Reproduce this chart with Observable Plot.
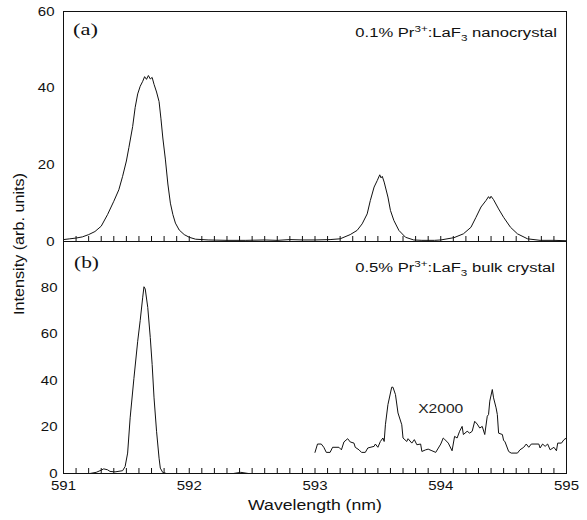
<!DOCTYPE html>
<html>
<head>
<meta charset="utf-8">
<script src="https://cdn.jsdelivr.net/npm/d3@7"></script>
<script src="https://cdn.jsdelivr.net/npm/@observablehq/plot@0.6"></script>
<style>
  html, body { margin: 0; padding: 0; background: white; }
  #wrap { position: relative; width: 587px; height: 520px; }
  #wrap > svg.plot { display: block; }
  #overlay { position: absolute; left: 0; top: 0; pointer-events: none; }
</style>
</head>
<body>
<div id="wrap"></div>
<script>
// ---------- data ----------
const xDomain = [591, 595];
const xTickLabels = [591, 592, 593, 594, 595];
const yTicksTop = [0, 20, 40, 60];
const yTicksBottom = [0, 20, 40, 60, 80];

// (a) nanocrystal spectrum: wavelength (nm), intensity
const nanoWl = [591.00,591.05,591.10,591.15,591.20,591.25,591.30,591.35,591.40,591.44,591.47,591.50,591.52,591.55,591.57,591.59,591.61,591.63,591.645,591.66,591.675,591.69,591.705,591.72,591.74,591.76,591.775,591.79,591.81,591.83,591.85,591.87,591.89,591.92,591.96,592.00,592.05,592.15,592.30,592.45,592.60,592.70,592.80,592.90,593.00,593.12,593.20,593.28,593.335,593.375,593.415,593.44,593.47,593.495,593.515,593.525,593.535,593.55,593.58,593.60,593.627,593.667,593.72,593.785,593.85,593.95,594.00,594.105,594.18,594.24,594.28,594.32,594.36,594.38,594.39,594.40,594.42,594.46,594.50,594.555,594.61,594.69,594.79,594.90,595.00];
const nanoI  = [0.5,0.7,0.9,1.2,1.8,2.6,4.0,7.0,10.5,13.5,17,21,24.5,30,35,38.5,40.5,41.8,43,42.3,43.3,42.4,42.8,41,39,36.5,32,27,21.5,15,10,7,4.8,3.0,1.8,1.1,0.6,0.4,0.3,0.3,0.4,0.3,0.5,0.4,0.4,0.5,0.7,1.8,2.9,4.6,7.2,10.7,14.2,15.9,17.4,16.6,17.0,15.5,11.6,8.1,5.5,2.9,1.1,0.4,0.3,0.3,0.4,1.0,2.0,3.7,6.3,9.0,10.7,11.7,11.2,11.8,10.9,8.5,6.3,3.7,2.0,0.7,0.3,0.3,0.2];

// (b) bulk crystal spectrum
const bulkWl = [591.00,591.10,591.21,591.26,591.29,591.32,591.35,591.37,591.41,591.47,591.49,591.51,591.53,591.56,591.59,591.61,591.63,591.64,591.65,591.67,591.69,591.705,591.72,591.74,591.76,591.77,591.79,591.82,592.00,592.35,592.41,592.47,592.90];
const bulkI  = [0,0,0,0.5,1.2,2.0,1.6,0.9,0.7,1.2,3,8.8,24,41,57,66,76,80.5,79.5,71.6,58.6,47,32.6,18.2,6.6,2.3,0.4,0,0,0,0.5,0,0];

// (b) X2000 magnified part
const x2000Wl = [593.00,593.02,593.05,593.07,593.09,593.12,593.14,593.19,593.21,593.23,593.26,593.28,593.31,593.32,593.35,593.37,593.40,593.42,593.47,593.48,593.50,593.52,593.54,593.55,593.56,593.58,593.61,593.62,593.64,593.66,593.69,593.70,593.73,593.74,593.77,593.79,593.81,593.84,593.85,593.88,593.90,593.93,593.96,594.00,594.02,594.03,594.06,594.09,594.11,594.13,594.15,594.17,594.18,594.21,594.23,594.25,594.27,594.29,594.31,594.33,594.35,594.37,594.38,594.39,594.41,594.42,594.44,594.45,594.46,594.49,594.50,594.51,594.54,594.56,594.61,594.63,594.66,594.68,594.70,594.72,594.78,594.79,594.81,594.83,594.85,594.87,594.90,594.92,594.93,594.96,594.98,595.00];
const x2000I  = [9.1,12.7,12.7,11.3,9.1,9.1,11.3,11.3,10.2,13.6,15,13.6,13.1,11.3,10.2,9.1,9.1,11,11.7,12.7,11.3,13.8,15.3,13.8,21,29.7,37.2,37.2,34,26.1,21,15.3,13.8,15,13.1,14.6,12.4,12.7,9.5,10.2,10.5,9.8,9.1,12.7,15.3,14.8,13.1,9.8,16,15.3,18.2,20.3,16.8,18.2,17.4,18.2,22.5,21.3,19.6,20.3,16.8,24.7,25.4,31.2,36.2,32.6,28.3,25.4,17.4,16.8,14.2,13.8,9.5,8.8,8.8,10.2,11.3,12.7,11.3,12.7,12.7,11,12.7,11.7,12.7,10.2,11.3,9.8,13.1,13.1,14.6,15.3];

const annotX2000 = [{x: 594.0, y: 28, label: "X2000"}];

// ---------- build ----------
const nano = nanoWl.map((x, i) => ({x, y: nanoI[i]}));
const bulk = bulkWl.map((x, i) => ({x, y: bulkI[i]}));
const mag = x2000Wl.map((x, i) => ({x, y: x2000I[i]}));
const minorTicks = d3.ticks(xDomain[0], xDomain[1], 40);

const W = 587, ML = 63, MR = 21;
const fontFam = "'Liberation Sans', Arial, Helvetica, sans-serif";
const serifFam = "'Liberation Serif', 'Times New Roman', serif";
const common = {
  width: W, marginLeft: ML, marginRight: MR,
  style: {fontFamily: fontFam, fontSize: "12.5px", color: "#111", background: "white", overflow: "visible"}
};

const plotTop = Plot.plot({
  ...common,
  height: 241, marginTop: 11, marginBottom: 0,
  x: {domain: xDomain, axis: null},
  y: {domain: [0, 60]},
  marks: [
    Plot.tickX(minorTicks, {x: d => d, insetTop: 225, stroke: "#111", strokeWidth: 1}),
    Plot.lineY(nano, {x: "x", y: "y", stroke: "#111", strokeWidth: 1}),
    Plot.axisY({ticks: yTicksTop, tickSize: 0, tickPadding: 9, label: null}),
    Plot.frame({stroke: "#111", strokeWidth: 1})
  ]
});
plotTop.classList.add("plot");

const plotBottom = Plot.plot({
  ...common,
  height: 279, marginTop: 0, marginBottom: 47,
  x: {domain: xDomain},
  y: {domain: [0, 100]},
  marks: [
    Plot.tickX(minorTicks, {x: d => d, insetTop: 227, stroke: "#111", strokeWidth: 1}),
    Plot.lineY(bulk, {x: "x", y: "y", stroke: "#111", strokeWidth: 1}),
    Plot.lineY(mag, {x: "x", y: "y", stroke: "#111", strokeWidth: 1}),
    Plot.text(annotX2000, {x: "x", y: "y", text: "label", fontSize: 13, fill: "#222"}),
    Plot.axisY({ticks: yTicksBottom, tickSize: 0, tickPadding: 6, label: null}),
    Plot.axisX({ticks: xTickLabels, tickSize: 0, tickPadding: 8, tickFormat: d => String(d), label: null}),
    Plot.frame({stroke: "#111", strokeWidth: 1})
  ]
});
plotBottom.classList.add("plot");

const wrap = document.getElementById("wrap");
wrap.appendChild(plotTop);
wrap.appendChild(plotBottom);

// the reference's lettering is horizontally stretched: widen each text about its own anchor
function stretch(t, s) {
  const tr = t.getAttribute("transform") || "";
  t.setAttribute("transform", `${tr} scale(${s},1)`);
}
for (const svg of [plotTop, plotBottom]) {
  svg.querySelectorAll("g[aria-label$='tick label'] text").forEach(t => stretch(t, 1.2));
  svg.querySelectorAll("g[aria-label='text'] text").forEach(t => stretch(t, 1.2));
}

// ---------- overlay text ----------
const ov = d3.select(wrap).append("svg").attr("id", "overlay")
  .attr("width", W).attr("height", 520)
  .style("font-family", fontFam).style("fill", "#111");

// place a text so that its width equals `width`, anchored at (x,y)
function fitted(x, y, width, rotate, build) {
  const g = ov.append("g");
  const t = g.append("text");
  build(t);
  const w = t.node().getComputedTextLength();
  const s = width / w;
  g.attr("transform", `translate(${x},${y})${rotate ? ` rotate(${rotate})` : ""} scale(${s},1)`);
  return t;
}

fitted(73, 35, 25, 0, t => t.style("font-family", serifFam).style("font-size", "17.5px").text("(a)"));
fitted(74, 268, 25, 0, t => t.style("font-family", serifFam).style("font-size", "17.5px").text("(b)"));

function sampleLabel(t, pct, rest) {
  t.attr("text-anchor", "end").style("font-size", "13.5px");
  t.append("tspan").text(pct + " Pr");
  t.append("tspan").attr("dy", -5).style("font-size", "9.5px").text("3+");
  t.append("tspan").attr("dy", 5).text(":LaF");
  t.append("tspan").attr("dy", 4).style("font-size", "9.5px").text("3");
  t.append("tspan").attr("dy", -4).text(" " + rest);
}
fitted(557, 37, 202, 0, t => sampleLabel(t, "0.1%", "nanocrystal"));
fitted(555, 272, 200, 0, t => sampleLabel(t, "0.5%", "bulk crystal"));

fitted(24, 244, 142, -90, t => t.attr("text-anchor", "middle").style("font-size", "14px").text("Intensity (arb. units)"));
fitted(315, 510, 134, 0, t => t.attr("text-anchor", "middle").style("font-size", "15px").text("Wavelength (nm)"));
</script>
</body>
</html>
